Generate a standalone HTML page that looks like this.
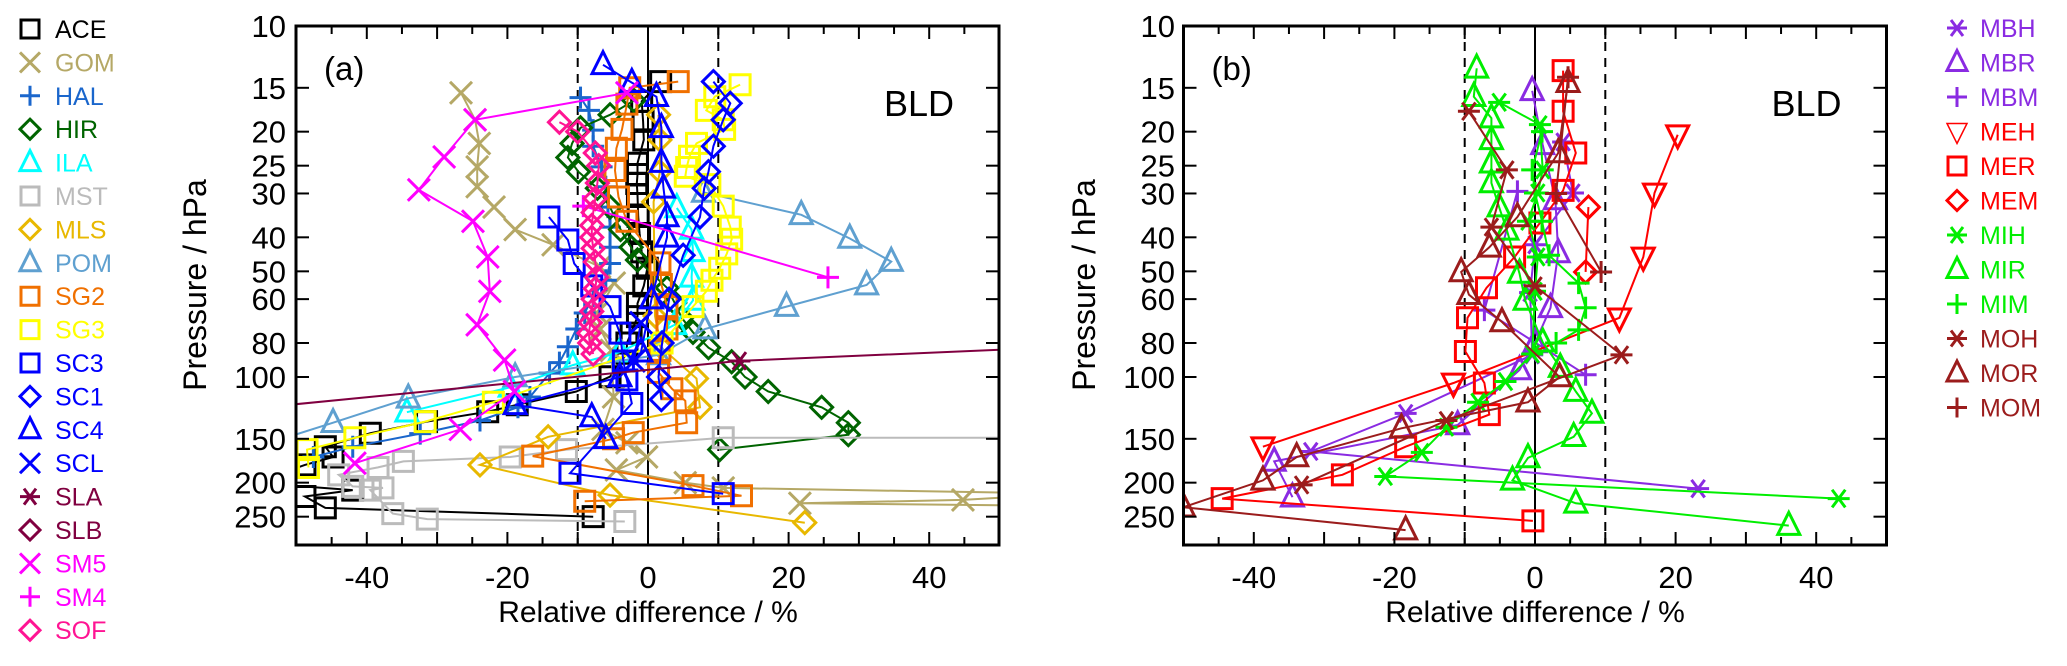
<!DOCTYPE html>
<html><head><meta charset="utf-8">
<style>
html,body{margin:0;padding:0;background:#fff;}
svg{display:block;font-family:"Liberation Sans",sans-serif;}
</style></head>
<body>
<svg id="chart" width="2067" height="666" viewBox="0 0 2067 666" xmlns="http://www.w3.org/2000/svg">
<defs>
<clipPath id="clipA"><rect x="296" y="26" width="703.5" height="519"/></clipPath>
<clipPath id="clipB"><rect x="1183.5" y="26" width="703" height="519"/></clipPath>
</defs>
<g id="legendA"></g>
<g id="legendB"></g>
<g id="panelA"></g>
<g id="panelB"></g>
</svg>
<script>
// ---------- Data: panel (a) ----------
const ACE_p=[14.4,16.4,18.7,21.1,24.6,26.5,28.1,30.3,34.9,39,44,49,55,61.7,67.3,75,80,85.6,99.8,110,120,125.6,134,144.6,158,169,178,200,210,219,236,250];
const ACE_v=[1.8,-0.9,-0.7,-0.6,-1.5,-1.5,-1.6,-1.5,-1.4,-1.2,-0.9,-0.1,-0.6,-1.5,-1.5,-2.4,-3,-3,-5.4,-10.2,-18.6,-22.8,-31.5,-39.5,-45.9,-44.8,-48.8,-56,-42,-48.8,-45.9,-7.8];
const GOM_p=[15.5,18.5,21.6,25.2,28.7,32.8,38,42,48.5,54,65.7,73,84,114,141,154,169,184,200,207,215,224,229,233];
const GOM_v=[-26.6,-24.6,-24,-24.3,-24.3,-21.9,-18.9,-13.5,-6.9,-4.8,-7.3,-6.8,-5.2,-4.9,-6.4,-3,-0.2,-4.5,5.3,10.7,60,44.8,21.6,60];
const HAL_p=[16,17.4,19.8,22,25.2,28.7,32.8,37.4,42.7,47.5,53,58.8,65.7,73,82,91,97.5,114,122,133,145,158,169];
const HAL_v=[-9.6,-8.4,-7.8,-7.8,-6.6,-6,-5.7,-5.4,-5.4,-5.4,-6,-7.8,-9,-10.2,-11.4,-12.6,-14,-16.8,-18.5,-23.9,-32.4,-42,-47.6];
const HIR_p=[16.3,17.9,19.5,21.6,23.7,26,29,32.8,38,42.7,46.4,55.7,61.5,67.8,74.6,82.5,90.5,100,110,122,135,146,161];
const HIR_v=[-2,-5.4,-9.6,-10.8,-11.4,-9.9,-7.2,-5.4,-3.9,-2.4,-1.5,2.7,3.8,4.8,6.4,8.6,11.9,13.8,17.1,24.7,28.5,28.5,10.2];
const ILA_p=[33,38,44,52,60.5,71,85,92.5,107,126];
const ILA_v=[4.1,6.2,6.4,6.2,6.4,3.8,-4,-10.7,-19.6,-34.3];
const MST_p=[149,149,161,169,174,181,190,205,207,210,245,254,258];
const MST_v=[60,10.7,-11.6,-19.6,-34.8,-38.4,-44,-42,-37.7,-39.5,-36.3,-31.4,-3.3];
const MLS_p=[17.9,21.1,26,31.7,67,82.5,101,122,148,178,217,260];
const MLS_v=[1.5,1.7,1.7,0.8,1,1.9,6.9,7.4,-14.2,-23.9,-5.4,22.3];
const POM_p=[29.8,34.5,40.3,46.9,54.7,63,73,86.5,100,115,135,150];
const POM_v=[7.9,21.8,28.7,34.6,31.1,19.7,8.1,1.5,-18.9,-34.1,-44.8,-52];
const SG2_p=[14.4,15,16.7,19.7,22.3,25.8,30.7,36,47.3,54.5,63,73,84,97,108,117,135,144,150,168,204,218,226];
const SG2_v=[4.3,-2.6,-3,-3.7,-4.5,-4.7,-4.2,-3,1.7,1.9,2.7,2.7,1.7,1.5,3.4,5.3,5.5,-2.1,-4.9,-16.4,6.4,13.3,-9];
const SG3_p=[14.7,15.9,17.4,18.5,19.7,21.6,23.5,25.3,26.8,28.3,32.6,37.4,40.5,44.6,49,53,57,63,80,118,134,149,161,181];
const SG3_v=[13.1,9.5,8.3,10.7,10.9,6.9,5.9,5.5,5.3,8.8,10.7,11.7,11.9,11.2,10.2,9.1,8.3,6.4,2,-22,-31.7,-41.7,-48.5,-48.3];
const SC3_p=[35,40.7,47.5,55,63,75,90,102,119,188,215];
const SC3_v=[-14.1,-11.4,-10.5,-8,-5.4,-4,-3.5,-3,-2.3,-11.1,10.7];
const SC1_p=[14.4,16.6,18.5,22,26,29,35,45,60,80,100,116];
const SC1_v=[9.3,11.7,10.7,9.3,8.6,8,7.4,5,3,2,1.5,1.9];
const SC4_p=[12.9,14.5,15.9,19.5,24.5,29,35,40,60,85,100,120,130,150];
const SC4_v=[-6.4,-2.3,1.2,1.9,1.9,2.2,2.7,2.7,0.5,-1,-4,-18.9,-8,-6];
const SCL_p=[70,90];
const SCL_v=[-1,-2];
const SLA_p=[125,90,82];
const SLA_v=[-60,13,60];
const SM5_p=[15.5,18.5,23.6,29.3,36,45.5,57,71,89.5,110,141,176];
const SM5_v=[-3,-24.6,-29,-32.6,-24.9,-22.8,-22.5,-24.3,-20.4,-19,-26.7,-41.7];
const SM4_p=[32.6,52];
const SM4_v=[-9.2,25.6];
const SOF_p=[18.8,20,23,25,28,31,34,37,40,43,47,52,56,60,65,70,75,80,86];
const SOF_v=[-12.6,-10,-7.5,-7,-7.2,-7.5,-7.8,-8,-8,-7.8,-7.5,-7.3,-7.5,-7.8,-8,-8.2,-8.4,-8.3,-7.8];
// ---------- Data: panel (b) ----------
const MBH_p=[21.4,29.9,42,57.5,86.5,127,163,208];
const MBH_v=[4,5.4,0,-0.7,-0.4,-18.4,-31.9,23.2];
const MBR_p=[15.3,21.8,31.3,44.3,63.5,80,95.5,137,174,220];
const MBR_v=[-0.4,1.1,2.9,3.3,2.2,0,-2.2,-11,-37.1,-34.5];
const MBM_p=[29.6,64.5,98.5];
const MBM_v=[-2.5,-7.2,7.2];
const MEH_p=[20.4,29.9,45.5,67.8,104,158];
const MEH_v=[20.3,17,15.4,12,-11.6,-38.7];
const MER_p=[13.4,17.5,23,29.4,36.4,45.5,55.7,67.8,84.6,104,128,158,190,222,257];
const MER_v=[4,4,5.8,4,0.7,-2.9,-6.9,-9.6,-9.9,-7.2,-6.5,-18.4,-27.4,-44.5,-0.3];
const MEM_p=[32.8,50.2];
const MEM_v=[7.6,7.2];
const MIH_p=[16.5,19.1,25.7,29.9,36,45.5,57,86,103,118,139,164,192,222];
const MIH_v=[-5.1,0.7,1.1,0.4,-1,0.4,0,-0.4,-4.2,-8.1,-12.6,-16.1,-21.3,43.2];
const MIR_p=[13.2,15.9,18.3,21.1,24.6,28,32.8,38.2,50.7,60.5,79.6,94,110,127,148,170,197,229,265];
const MIR_v=[-8.3,-8.7,-6.2,-6.2,-6.2,-6.2,-5.1,-4,-2.2,-1.4,1.1,3.6,5.8,8.1,5.5,-1,-3.2,5.8,36.1];
const MIM_p=[20,25.7,29.9,36,45,54,63.5,73.4,80];
const MIM_v=[1,-0.4,0,1,2,6.2,7.2,6.2,3];
const MOH_p=[17.5,25.7,37.4,55,86.5,133,203];
const MOH_v=[-9.4,-4,-6.2,0,12.3,-12.6,-33.2];
const MOR_p=[14.5,23,35,42.7,50.2,58.3,69.7,100,118,140,169,197,235,273];
const MOR_v=[4.7,3.3,-2.5,-6.5,-10.5,-9.4,-4.7,3.5,-1,-19,-33.9,-38.7,-50,-18.4];
const MOM_p=[14,30,50.2];
const MOM_v=[4.7,3,9.4];
// ---------- Tick labels ----------
const pTicks=[10,15,20,25,30,40,50,60,80,100,150,200,250];
const xTickLabels=[-40,-20,0,20,40];
const xMinor=[-50,-45,-40,-35,-30,-25,-20,-15,-10,-5,0,5,10,15,20,25,30,35,40,45,50];

const NS="http://www.w3.org/2000/svg";
function mk(tag,attrs,parent){const e=document.createElementNS(NS,tag);for(const k in attrs)e.setAttribute(k,attrs[k]);parent.appendChild(e);return e;}

const seriesA=[
 ["ACE",ACE_p,ACE_v,"#000000","sq"],["GOM",GOM_p,GOM_v,"#b5a866","x"],["HAL",HAL_p,HAL_v,"#1a66cc","plus"],
 ["HIR",HIR_p,HIR_v,"#006400","dia"],["ILA",ILA_p,ILA_v,"#00ffff","tri"],["MST",MST_p,MST_v,"#bbbbbb","sq"],
 ["MLS",MLS_p,MLS_v,"#e8b800","dia"],["POM",POM_p,POM_v,"#5fa0d0","tri"],["SG2",SG2_p,SG2_v,"#f07000","sq"],
 ["SG3",SG3_p,SG3_v,"#ffff00","sq"],["SC3",SC3_p,SC3_v,"#0000ff","sq"],["SC1",SC1_p,SC1_v,"#0000ff","dia"],
 ["SC4",SC4_p,SC4_v,"#0000ff","tri"],["SCL",SCL_p,SCL_v,"#0000ff","x"],["SLA",SLA_p,SLA_v,"#800040","ast"],
 ["SLB",[],[],"#800040","dia"],["SM5",SM5_p,SM5_v,"#ff00ff","x"],["SM4",SM4_p,SM4_v,"#ff00ff","plus"],
 ["SOF",SOF_p,SOF_v,"#ff1493","dia"]];
const seriesB=[
 ["MBH",MBH_p,MBH_v,"#8a2be2","ast"],["MBR",MBR_p,MBR_v,"#8a2be2","tri"],["MBM",MBM_p,MBM_v,"#8a2be2","plus"],
 ["MEH",MEH_p,MEH_v,"#ff0000","tridn"],["MER",MER_p,MER_v,"#ff0000","sq"],["MEM",MEM_p,MEM_v,"#ff0000","dia"],
 ["MIH",MIH_p,MIH_v,"#00ee00","ast"],["MIR",MIR_p,MIR_v,"#00ee00","tri"],["MIM",MIM_p,MIM_v,"#00ee00","plus"],
 ["MOH",MOH_p,MOH_v,"#9b1c1c","ast"],["MOR",MOR_p,MOR_v,"#9b1c1c","tri"],["MOM",MOM_p,MOM_v,"#9b1c1c","plus"]];

function yScale(p){return 26+351*Math.log10(p/10);}
function marker(g,type,x,y,c,s,w){
 let d;
 if(type==="sq")d=`M${x-s},${y-s}H${x+s}V${y+s}H${x-s}Z`;
 else if(type==="dia")d=`M${x},${y-s}L${x+s},${y}L${x},${y+s}L${x-s},${y}Z`;
 else if(type==="tri")d=`M${x},${y-s*1.2}L${x+s},${y+s*0.8}L${x-s},${y+s*0.8}Z`;
 else if(type==="tridn")d=`M${x},${y+s*1.2}L${x+s},${y-s*0.8}L${x-s},${y-s*0.8}Z`;
 else if(type==="x")d=`M${x-s},${y-s}L${x+s},${y+s}M${x-s},${y+s}L${x+s},${y-s}`;
 else if(type==="plus")d=`M${x-s},${y}H${x+s}M${x},${y-s}V${y+s}`;
 else d=`M${x-s},${y}H${x+s}M${x-s*0.6},${y-s*0.8}L${x+s*0.6},${y+s*0.8}M${x-s*0.6},${y+s*0.8}L${x+s*0.6},${y-s*0.8}`;
 const m=mk("path",{d:d,fill:"none",stroke:c,"stroke-width":w},g);
 return m;
}

function drawPanel(gid,clip,X0,zero,label,series,labelRight){
 const g=document.getElementById(gid);
 const xS=v=>zero+7.03*v;
 const X1=X0+703;
 const ref=mk("g",{},g);
 
 
 mk("line",{x1:xS(0),x2:xS(0),y1:26,y2:545,stroke:"#000","stroke-width":2},ref);
 mk("line",{x1:xS(-10),x2:xS(-10),y1:26,y2:545,stroke:"#000","stroke-width":2,"stroke-dasharray":"9,7"},ref);
 mk("line",{x1:xS(10),x2:xS(10),y1:26,y2:545,stroke:"#000","stroke-width":2,"stroke-dasharray":"9,7"},ref);
 const sg=mk("g",{"clip-path":`url(#${clip})`},g);
 series.forEach(s=>{
  const [name,P,V,c,type]=s;
  if(!P.length)return;
  const sgrp=mk("g",{},sg);
  
  
  const pts=P.map((p,i)=>xS(V[i]).toFixed(1)+","+yScale(p).toFixed(1)).join(" ");
  mk("polyline",{points:pts,fill:"none",stroke:c,"stroke-width":2},sgrp);
  P.forEach((p,i)=>{
   const m=marker(sgrp,type,xS(V[i]),yScale(p),c,type==="sq"?10:11,3);
   
   
  });
 });
 const fr=mk("rect",{x:X0,y:26,width:703,height:519,fill:"none",stroke:"#000","stroke-width":3},g);
 
 
 const xt=mk("g",{},g);
 
 
 xMinor.forEach(v=>{
  const L=(v%10===0)?13:8;
  mk("line",{x1:xS(v),x2:xS(v),y1:545,y2:545-L,stroke:"#000","stroke-width":2},xt);
  mk("line",{x1:xS(v),x2:xS(v),y1:26,y2:26+L,stroke:"#000","stroke-width":2},xt);
 });
 xTickLabels.forEach(v=>{
  const t=mk("text",{x:xS(v),y:588,"text-anchor":"middle","font-size":31},xt);
  t.textContent=String(v);
  
  
 });
 const xl=mk("text",{x:zero,y:622,"text-anchor":"middle","font-size":30},g);
 xl.textContent="Relative difference / %";
 
 
 const yt=mk("g",{},g);
 
 
 pTicks.forEach(p=>{
  const y=yScale(p);
  mk("line",{x1:X0,x2:X0+13,y1:y,y2:y,stroke:"#000","stroke-width":2},yt);
  mk("line",{x1:X1,x2:X1-13,y1:y,y2:y,stroke:"#000","stroke-width":2},yt);
  const t=mk("text",{x:labelRight,y:y+11,"text-anchor":"end","font-size":31},yt);
  t.textContent=String(p);
  
  
 });
 const yl=mk("text",{x:0,y:0,"text-anchor":"middle","font-size":32,transform:`translate(${labelRight-80},285) rotate(-90)`},g);
 yl.textContent="Pressure / hPa";
 
 
 const pl=mk("text",{x:X0+28,y:80,"font-size":33},g);
 pl.textContent=label;
 
 
 const bl=mk("text",{x:X1-45,y:116,"text-anchor":"end","font-size":36},g);
 bl.textContent="BLD";
 
 
}

function drawLegend(gid,series,mx,tx,y0,dy){
 const g=document.getElementById(gid);
 series.forEach((s,i)=>{
  const y=y0+i*dy;
  const e=mk("g",{},g);
  
  
  marker(e,s[4],mx,y,s[3],s[4]==="sq"?9:10,s[4]==="tridn"?1.5:3);
  const t=mk("text",{x:tx,y:y+9,"font-size":25,fill:s[3]},e);
  t.textContent=s[0];
 });
}

drawPanel("panelA","clipA",296,648,"(a)",seriesA,286);
drawPanel("panelB","clipB",1183.5,1535,"(b)",seriesB,1175);
drawLegend("legendA",seriesA,30,55,29,33.4);
drawLegend("legendB",seriesB,1957,1980,28,34.5);
</script>
</body></html>
